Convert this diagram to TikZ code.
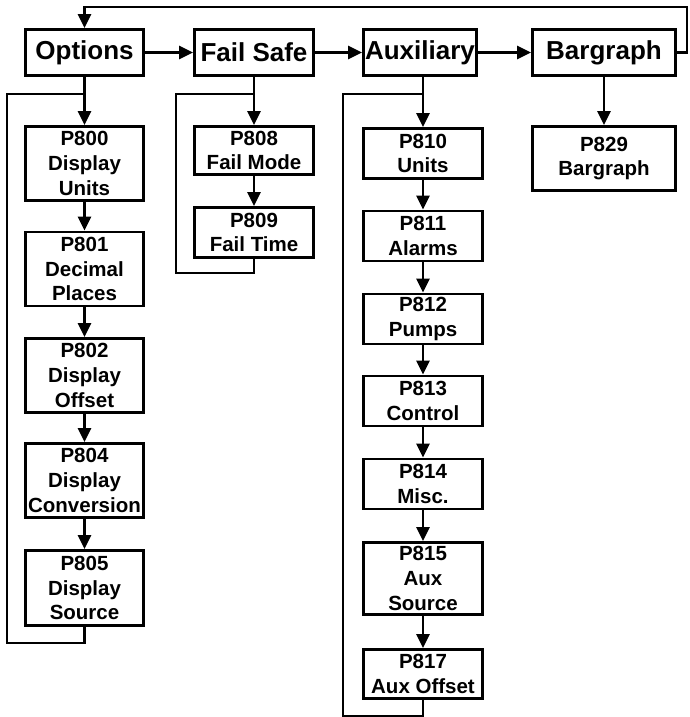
\documentclass[tikz,border=0pt]{standalone}
\usepackage{fontspec}
\setmainfont{Liberation Sans}
\usetikzlibrary{arrows.meta}

\begin{document}
\begin{tikzpicture}[x=1pt, y=-1pt,
  menu/.style={draw, line width=2.8pt, minimum height=46pt, inner sep=0pt,
               font=\fontsize{26}{30}\selectfont\bfseries},
  param/.style={draw, line width=2.8pt, minimum width=119pt, inner sep=0pt,
                align=center, font=\fontsize{20.5}{24.8}\selectfont\bfseries},
  arr/.style={-{Triangle[length=14pt, width=13pt]}, line width=2.6pt},
  wire/.style={line width=2.6pt},
]
\useasboundingbox (0,0) rectangle (689,717);
% top menu row
\node[menu, minimum width=118pt] (opts) at (84.5,52.5) {Options};
\node[menu, minimum width=119pt] (fail) at (254,52.5)  {Fail Safe};
\node[menu, minimum width=113pt] (aux)  at (420,52.5)  {Auxiliary};
\node[menu, minimum width=143pt] (barg) at (604,52.5)  {Bargraph};
% options parameters
\node[param, minimum width=118pt, minimum height=74pt] (p800) at (84.5,163.5) {P800\\Display\\Units};
\node[param, minimum width=118pt, minimum height=74pt] (p801) at (84.5,269)   {P801\\Decimal\\Places};
\node[param, minimum width=118pt, minimum height=74pt] (p802) at (84.5,375.5) {P802\\Display\\Offset};
\node[param, minimum width=118pt, minimum height=74pt] (p804) at (84.5,480.5) {P804\\Display\\Conversion};
\node[param, minimum width=118pt, minimum height=75pt] (p805) at (84.5,588)   {P805\\Display\\Source};
% fail safe parameters
\node[param, minimum height=48pt] (p808) at (254,150.5) {P808\\Fail Mode};
\node[param, minimum height=50pt] (p809) at (254,232.5) {P809\\Fail Time};
% auxiliary parameters
\node[param, minimum height=50pt] (p810) at (423,153.5) {P810\\Units};
\node[param, minimum height=50pt] (p811) at (423,236)   {P811\\Alarms};
\node[param, minimum height=50pt] (p812) at (423,319)   {P812\\Pumps};
\node[param, minimum height=50pt] (p813) at (423,401)   {P813\\Control};
\node[param, minimum height=50pt] (p814) at (423,484)   {P814\\Misc.};
\node[param, minimum height=72pt] (p815) at (423,578.5) {P815\\Aux\\Source};
\node[param, minimum height=49pt] (p817) at (423,674)   {P817\\Aux Offset};
% bargraph parameter
\node[param, minimum width=143pt, minimum height=64pt] (p829) at (604,158.5) {P829\\Bargraph};
% menu row arrows and return
\coordinate (back) at (687,7);
\draw[arr] (opts) -- (fail);
\draw[arr] (fail) -- (aux);
\draw[arr] (aux)  -- (barg);
\draw[arr] (barg.east) -| (back) -| (opts.north);
% down the columns
\draw[arr] (opts) -- (p800);
\draw[arr] (p800) -- (p801);
\draw[arr] (p801) -- (p802);
\draw[arr] (p802) -- (p804);
\draw[arr] (p804) -- (p805);
\draw[arr] (fail) -- (p808);
\draw[arr] (p808) -- (p809);
\draw[arr] (p810 |- aux.south) -- (p810.north);
\draw[arr] (p810) -- (p811);
\draw[arr] (p811) -- (p812);
\draw[arr] (p812) -- (p813);
\draw[arr] (p813) -- (p814);
\draw[arr] (p814) -- (p815);
\draw[arr] (p815) -- (p817);
\draw[arr] (barg) -- (p829);
% loops back to the top of each column
\coordinate (optfork) at (84.5,94);
\coordinate (optback) at (7,643);
\coordinate (failfork) at (254,94);
\coordinate (failback) at (176,273);
\coordinate (auxfork) at (423,94);
\coordinate (auxback) at (343,716);
\draw[wire] (p805.south) |- (optback) |- (optfork);
\draw[wire] (p809.south) |- (failback) |- (failfork);
\draw[wire] (p817.south) |- (auxback) |- (auxfork);
\end{tikzpicture}
\end{document}
